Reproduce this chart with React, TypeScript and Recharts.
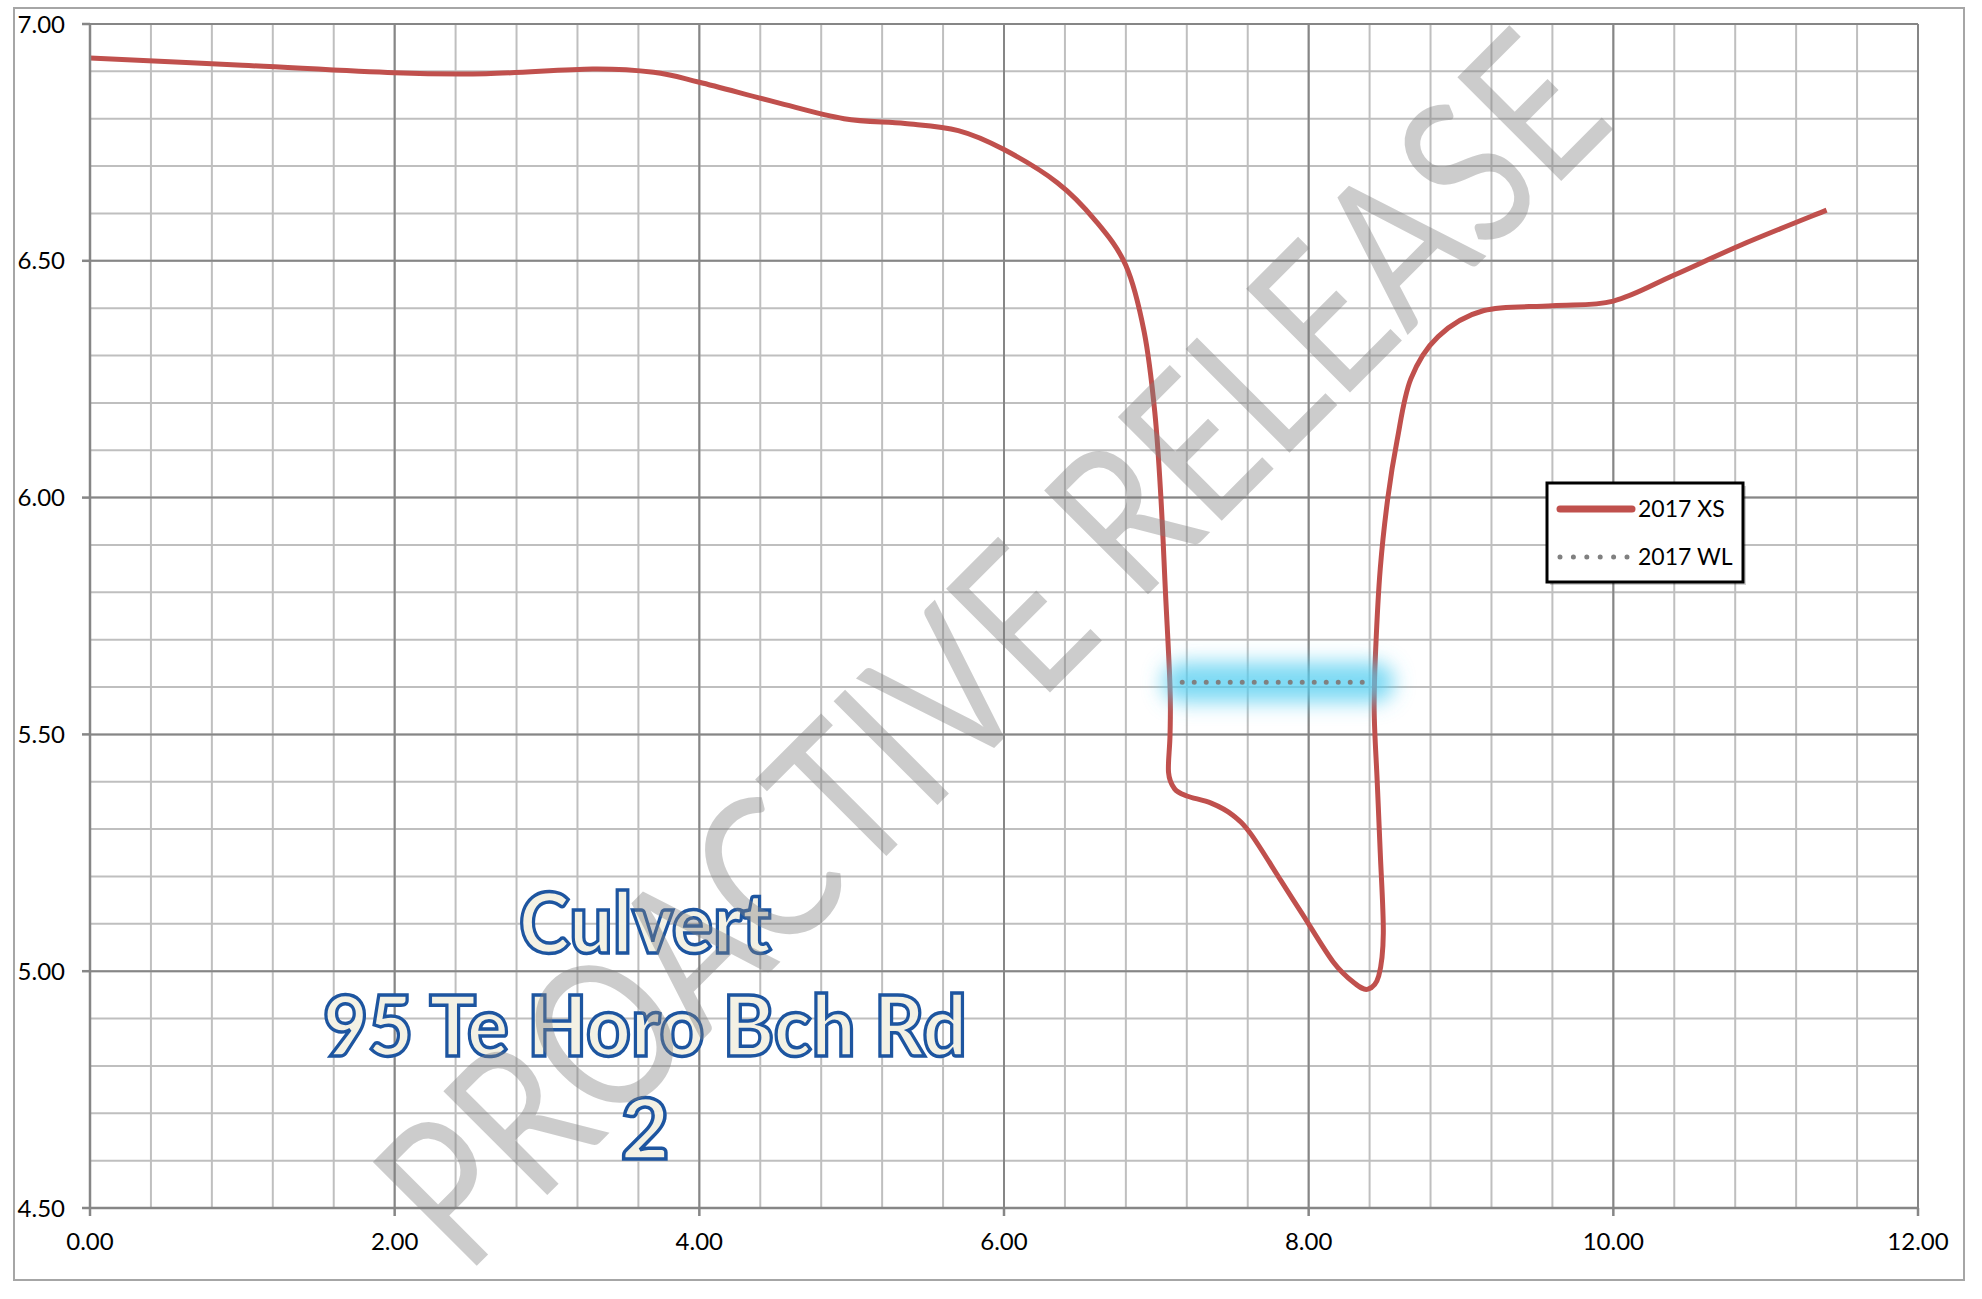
import React from "react";
import { CartesianGrid, Line, LineChart, XAxis, YAxis } from "recharts";

// surveyed cross-section (distance, level)
const xsDistance = [
  0, 1.0, 2.0, 2.6, 3.3, 3.7, 4.0, 4.5, 4.95, 5.35, 5.7, 6.0, 6.35, 6.6, 6.8, 6.92, 6.99, 7.03, 7.06,
  7.09, 7.09, 7.08, 7.12, 7.2, 7.36, 7.5, 7.62, 7.82, 7.96, 8.16, 8.3, 8.39, 8.46, 8.49, 8.47, 8.45,
  8.43, 8.44, 8.47, 8.52, 8.58, 8.67, 8.85, 9.15, 9.6, 10.0, 10.4, 10.85, 11.4,
];
const xsLevel = [
  6.928, 6.913, 6.897, 6.895, 6.905, 6.898, 6.877, 6.835, 6.8, 6.79, 6.775, 6.735, 6.665, 6.585,
  6.49, 6.35, 6.18, 6.0, 5.8, 5.6, 5.5, 5.42, 5.385, 5.37, 5.355, 5.33, 5.29, 5.19, 5.12, 5.02,
  4.975, 4.962, 4.99, 5.08, 5.25, 5.4, 5.55, 5.68, 5.85, 6.0, 6.12, 6.25, 6.34, 6.395, 6.405, 6.415,
  6.47, 6.535, 6.607,
];

// water level
const wlDistance = [7.17, 8.43];
const wlLevel = [5.61, 5.61];

const xTicks = [0, 2, 4, 6, 8, 10, 12];
const yTicks = [4.5, 5, 5.5, 6, 6.5, 7];
const xMinor = [
  0, 0.4, 0.8, 1.2, 1.6, 2, 2.4, 2.8, 3.2, 3.6, 4, 4.4, 4.8, 5.2, 5.6, 6, 6.4, 6.8, 7.2, 7.6, 8,
  8.4, 8.8, 9.2, 9.6, 10, 10.4, 10.8, 11.2, 11.6, 12,
];
const yMinor = [
  4.5, 4.6, 4.7, 4.8, 4.9, 5, 5.1, 5.2, 5.3, 5.4, 5.5, 5.6, 5.7, 5.8, 5.9, 6, 6.1, 6.2, 6.3, 6.4,
  6.5, 6.6, 6.7, 6.8, 6.9, 7,
];

const seriesNames = ["2017 XS", "2017 WL"];
const titleLines = ["Culvert", "95 Te Horo Bch Rd", "2"];
const watermark = "PROACTIVE RELEASE";

const xsData = xsDistance.map((x, i) => ({ x, y: xsLevel[i] }));
const wlData = wlDistance.map((x, i) => ({ x, y: wlLevel[i] }));

const RED = "#c0504d";
const FONT = "Lato, 'Open Sans', sans-serif";

// excel-ish smoothed line (catmull-rom through every point)
function smooth(context: any) {
  let pts: number[][] = [];
  return {
    areaStart() {},
    areaEnd() {},
    lineStart() {
      pts = [];
    },
    point(x: number, y: number) {
      pts.push([+x, +y]);
    },
    lineEnd() {
      const n = pts.length;
      if (!n) return;
      context.moveTo(pts[0][0], pts[0][1]);
      for (let i = 0; i < n - 1; i++) {
        const p0 = pts[Math.max(i - 1, 0)];
        const p1 = pts[i];
        const p2 = pts[i + 1];
        const p3 = pts[Math.min(i + 2, n - 1)];
        context.bezierCurveTo(
          p1[0] + (p2[0] - p0[0]) / 6,
          p1[1] + (p2[1] - p0[1]) / 6,
          p2[0] - (p3[0] - p1[0]) / 6,
          p2[1] - (p3[1] - p1[1]) / 6,
          p2[0],
          p2[1]
        );
      }
    },
  };
}

const tickStyle = { fontFamily: FONT, fontSize: 24, fill: "#000" };

export default function App() {
  return (
    <div style={{ position: "absolute", left: 0, top: 0, width: 1982, height: 1299, background: "#fff" }}>
      <svg width="0" height="0" style={{ position: "absolute" }}>
        <defs>
          <filter id="wlGlow" filterUnits="userSpaceOnUse" x="0" y="0" width="1982" height="1299">
            <feGaussianBlur stdDeviation="10" />
          </filter>
        </defs>
      </svg>
      <div
        style={{
          position: "absolute",
          left: 13,
          top: 7,
          width: 1952,
          height: 1274,
          border: "2px solid #a6a6a6",
          boxSizing: "border-box",
        }}
      />
      <div style={{ position: "absolute", left: 0, top: 0 }}>
        <LineChart width={1982} height={1299} margin={{ top: 24, right: 64, bottom: 31, left: 20 }}>
          <CartesianGrid
            horizontalValues={yMinor}
            verticalValues={xMinor}
            stroke="#bfbfbf"
            strokeWidth={2}
          />
          <CartesianGrid
            horizontalValues={yTicks}
            verticalValues={xTicks}
            stroke="#868686"
            strokeWidth={2}
          />
          <XAxis
            type="number"
            dataKey="x"
            domain={[0, 12]}
            ticks={xTicks}
            interval={0}
            height={60}
            tickFormatter={(v: number) => v.toFixed(2)}
            tick={tickStyle}
            tickSize={8}
            tickMargin={17}
            stroke="#868686"
            strokeWidth={2.5}
          />
          <YAxis
            type="number"
            dataKey="y"
            domain={[4.5, 7]}
            ticks={yTicks}
            interval={0}
            width={70}
            tickFormatter={(v: number) => v.toFixed(2)}
            tick={tickStyle}
            tickSize={8}
            tickMargin={17}
            stroke="#868686"
            strokeWidth={2.5}
          />
          <Line
            data={xsData}
            dataKey="y"
            name={seriesNames[0]}
            type={smooth as any}
            stroke={RED}
            strokeWidth={5}
            dot={false}
            activeDot={false}
            isAnimationActive={false}
          />
          <Line
            data={wlData}
            dataKey="y"
            name="glow"
            type="linear"
            stroke="#52cdf0"
            strokeOpacity={0.75}
            strokeWidth={40}
            strokeLinecap="round"
            filter="url(#wlGlow)"
            dot={false}
            activeDot={false}
            legendType="none"
            isAnimationActive={false}
          />
          <Line
            data={wlData}
            dataKey="y"
            name={seriesNames[1]}
            type="linear"
            stroke="#808080"
            strokeWidth={5}
            strokeDasharray="0 12"
            strokeLinecap="round"
            dot={false}
            activeDot={false}
            isAnimationActive={false}
          />
        </LineChart>
      </div>

      {/* legend */}
      <svg
        width={215}
        height={115}
        style={{ position: "absolute", left: 1540, top: 476, overflow: "visible" }}
      >
        <rect x={10} y={10} width={196} height={99} fill="#000" opacity={0.18} />
        <rect x={7} y={7} width={196} height={99} fill="#fff" stroke="#000" strokeWidth={3} />
        <line x1={20} x2={92} y1={33} y2={33} stroke={RED} strokeWidth={7} strokeLinecap="round" />
        <text x={98} y={41} fontFamily={FONT} fontSize={23} fill="#000">
          {seriesNames[0]}
        </text>
        <line
          x1={20}
          x2={87}
          y1={81}
          y2={81}
          stroke="#808080"
          strokeWidth={5}
          strokeDasharray="0 13.4"
          strokeLinecap="round"
        />
        <text x={98} y={89} fontFamily={FONT} fontSize={23} fill="#000">
          {seriesNames[1]}
        </text>
      </svg>

      {/* title + watermark */}
      <svg
        width={1982}
        height={1299}
        style={{ position: "absolute", left: 0, top: 0, pointerEvents: "none" }}
      >
        {titleLines.map((t, i) => (
          <text
            key={t}
            x={645}
            y={953 + i * 103}
            textAnchor="middle"
            fontFamily={FONT}
            fontWeight={900}
            fontSize={84}
            fill="#f3f1e4"
            stroke="#1d55a0"
            strokeWidth={3.5}
            textLength={i === 0 ? 252 : i === 1 ? 644 : undefined}
            lengthAdjust="spacingAndGlyphs"
          >
            {t}
          </text>
        ))}
        <text
          x={990}
          y={648}
          dy="0.36em"
          transform="rotate(-45 990 648)"
          textAnchor="middle"
          fontFamily={FONT}
          fontSize={205}
          fill="#7f7f7f"
          fillOpacity={0.4}
          textLength={1630}
          lengthAdjust="spacingAndGlyphs"
        >
          {watermark}
        </text>
      </svg>
    </div>
  );
}
